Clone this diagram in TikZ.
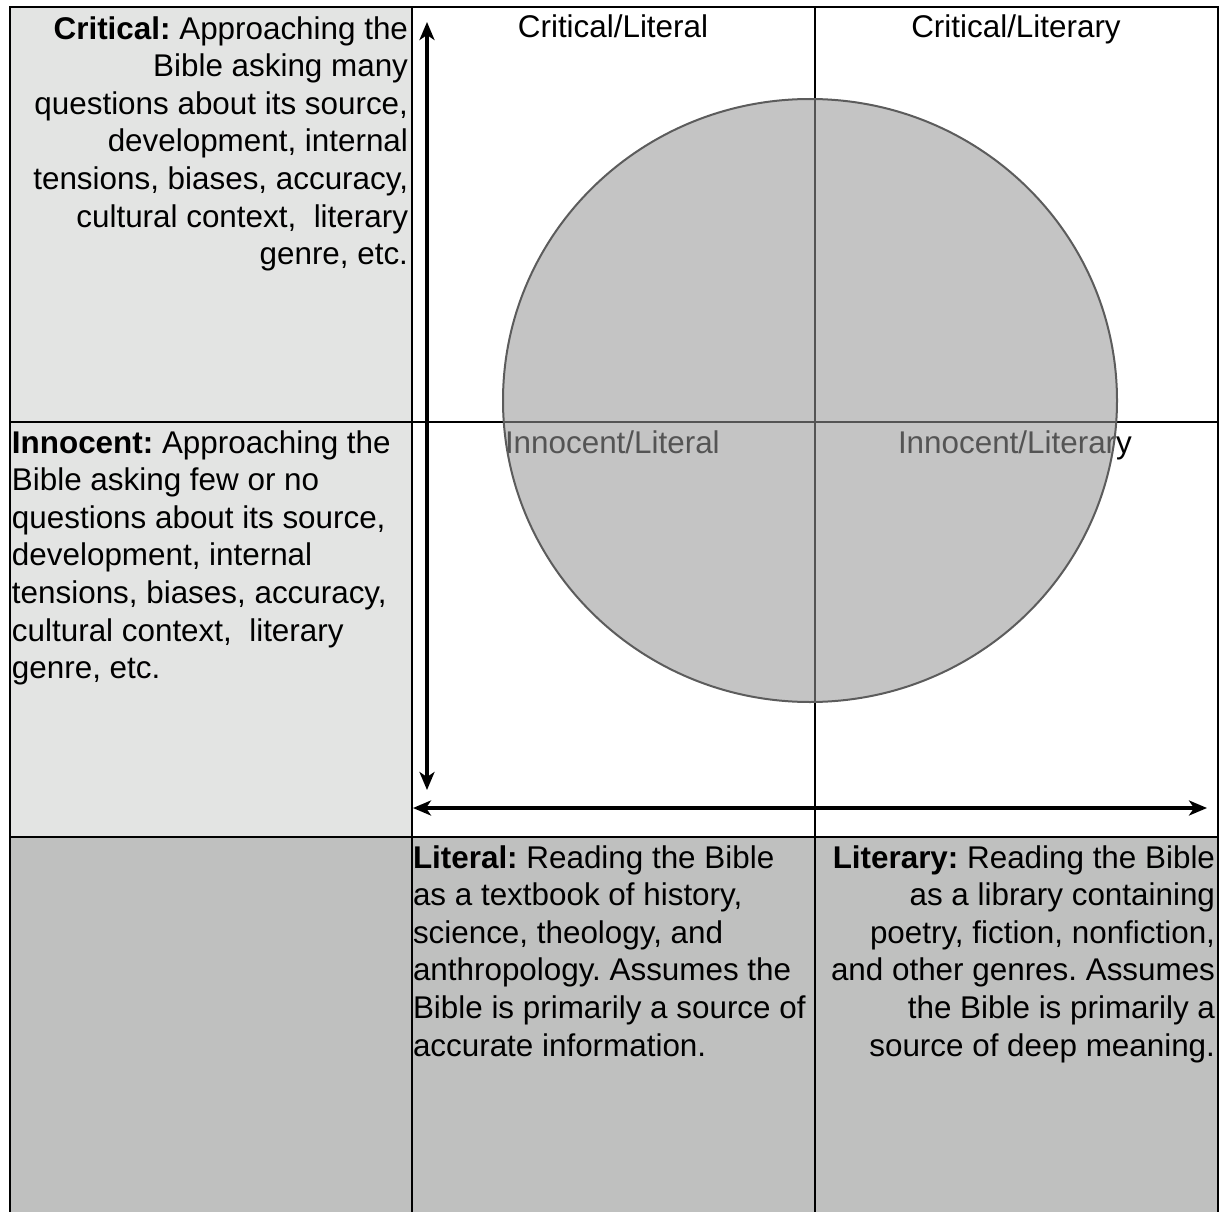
\documentclass[tikz,border=0pt]{standalone}
\usepackage{fontspec}
\setmainfont{Liberation Sans}
\usetikzlibrary{arrows.meta}
\definecolor{leftfill}{RGB}{227,228,227}
\definecolor{bottomfill}{RGB}{191,192,191}
\definecolor{discfill}{RGB}{150,150,150}
\definecolor{discedge}{RGB}{92,92,92}
\frenchspacing
\begin{document}
\begin{tikzpicture}[x=1pt,y=-1pt,
  txt/.style={font=\fontsize{31.4}{37.6}\selectfont, inner sep=0pt, outer sep=0pt},
  gridline/.style={line width=2pt, black},
  tipshape/.tip={Stealth[length=18pt,width=15pt,inset=5pt]},
  axis/.style={line width=4pt, tipshape-tipshape},
]
\useasboundingbox (0,0) rectangle (1221,1212);

% cell shading
\fill[leftfill] (9.5,7.5) rectangle (411.5,836.5);
\fill[bottomfill] (9.5,836.5) rectangle (1218,1212);

% grid
\draw[gridline] (9.5,1212) -- (9.5,7.5) -- (1218,7.5) -- (1218,1212);
\draw[gridline] (411.5,7.5) -- (411.5,1212);
\draw[gridline] (815,7.5) -- (815,1212);
\draw[gridline] (9.5,421.5) -- (1218,421.5);
\draw[gridline] (9.5,836.5) -- (1218,836.5);

% definitions (anchored at the baseline of their last line)
\node[txt, anchor=base east, align=right] (critical) at (408,264.6)
  {\textbf{Critical:} Approaching the\\
   Bible asking many\\
   questions about its source,\\
   development, internal\\
   tensions, biases, accuracy,\\
   cultural context,\ \ literary\\
   genre, etc.};
\node[txt, anchor=base west, align=left] (innocent) at (12,678.6)
  {\textbf{Innocent:} Approaching the\\
   Bible asking few or no\\
   questions about its source,\\
   development, internal\\
   tensions, biases, accuracy,\\
   cultural context,\ \ literary\\
   genre, etc.};
\node[txt, anchor=base west, align=left] (literal) at (413,1056)
  {\textbf{Literal:} Reading the Bible\\
   as a textbook of history,\\
   science, theology, and\\
   anthropology. Assumes the\\
   Bible is primarily a source of\\
   accurate information.};
\node[txt, anchor=base east, align=right] (literary) at (1215,1056)
  {\textbf{Literary:} Reading the Bible\\
   as a library containing\\
   poetry, fiction, nonfiction,\\
   and other genres. Assumes\\
   the Bible is primarily a\\
   source of deep meaning.};

% quadrant labels
\node[txt, anchor=base] (critlit) at (613,38) {Critical/Literal};
\node[txt, anchor=base] (critlity) at (1016,38) {Critical/Literary};
\node[txt, anchor=base west] (innlit) at (505,453) {Innocent/Literal};
\node[txt, anchor=base west] (innlity) at (898,453) {Innocent/Literary};

% axes
\coordinate (vtop) at (427,22);
\coordinate (vbot) at (427,790);
\coordinate (hleft) at (413,808);
\coordinate (hright) at (1207,808);
\draw[axis] (vtop) -- (vbot);
\draw[axis] (hleft) -- (hright);

% translucent disc over the centre
\path[fill=discfill, fill opacity=0.565, draw=discedge, line width=2pt]
  (810,400.5) ellipse [x radius=307, y radius=301.5];
\end{tikzpicture}
\end{document}
